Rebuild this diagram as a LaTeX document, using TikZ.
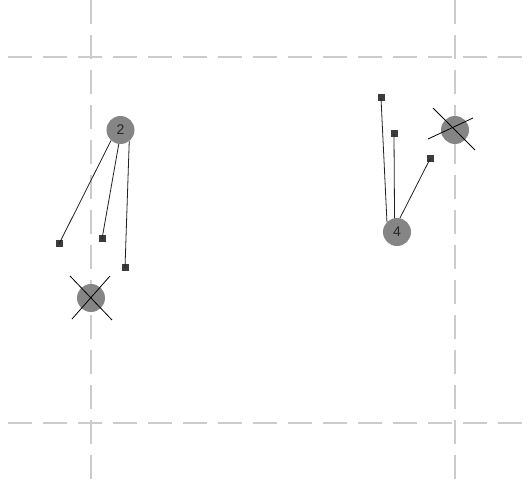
\documentclass[tikz,border=0pt]{standalone}
\usepackage{fontspec}
\setmainfont{Liberation Sans}
\usetikzlibrary{calc}
\definecolor{gridc}{HTML}{CCCCCC}
\definecolor{ballc}{HTML}{858585}
\definecolor{sqc}{HTML}{3C3C3C}
\definecolor{linec}{HTML}{202020}
\tikzset{
  gridline/.style={draw=gridc, line width=1.3pt, dash pattern=on 24pt off 11pt},
  ball/.style={circle, fill=ballc, minimum size=28pt, inner sep=0pt, font=\fontsize{14}{14}\selectfont, text=black!85},
  handle/.style={rectangle, fill=sqc, minimum size=7pt, inner sep=0pt},
  link/.style={draw=linec, line width=0.8pt},
  crossline/.style={draw=black, line width=0.8pt}
}
\begin{document}
\begin{tikzpicture}[x=1pt,y=-1pt]
\useasboundingbox (0,0) rectangle (531,484);
% grid
\draw[gridline] (8,57) -- (531,57);
\draw[gridline] (8,423) -- (531,423);
\draw[gridline] (91,0) -- (91,484);
\draw[gridline] (455,0) -- (455,484);
% left group
\node[ball] (n2) at (120.5,130) {2};
\node[handle] (s1) at (59,244) {};
\node[handle] (s2) at (102,239) {};
\node[handle] (s3) at (125,268) {};
\draw[link] (n2.-132) -- (s1.center);
\draw[link] (n2.-97) -- (s2.center);
\draw[link] (n2.-52) -- (s3.center);
\node[ball] (x1) at (91,298) {};
\coordinate (x1a) at ($(x1)+(-21,-22)$);
\coordinate (x1b) at ($(x1)+(21,22)$);
\coordinate (x1c) at ($(x1)+(19,-22)$);
\coordinate (x1d) at ($(x1)+(-19,21)$);
\draw[crossline] (x1a) -- (x1b);
\draw[crossline] (x1c) -- (x1d);
% right group
\node[ball] (n4) at (397,232) {4};
\node[handle] (s4) at (381,98) {};
\node[handle] (s5) at (394,134) {};
\node[handle] (s6) at (430,159) {};
\draw[link] (n4.135) -- (s4.center);
\draw[link] (n4.100) -- (s5.center);
\draw[link] (n4.78) -- (s6.center);
\node[ball] (x2) at (455,130) {};
\coordinate (x2a) at ($(x2)+(-22,-22)$);
\coordinate (x2b) at ($(x2)+(20,20)$);
\coordinate (x2c) at ($(x2)+(-27,9)$);
\coordinate (x2d) at ($(x2)+(18,-12)$);
\draw[crossline] (x2a) -- (x2b);
\draw[crossline] (x2c) -- (x2d);
\end{tikzpicture}
\end{document}
